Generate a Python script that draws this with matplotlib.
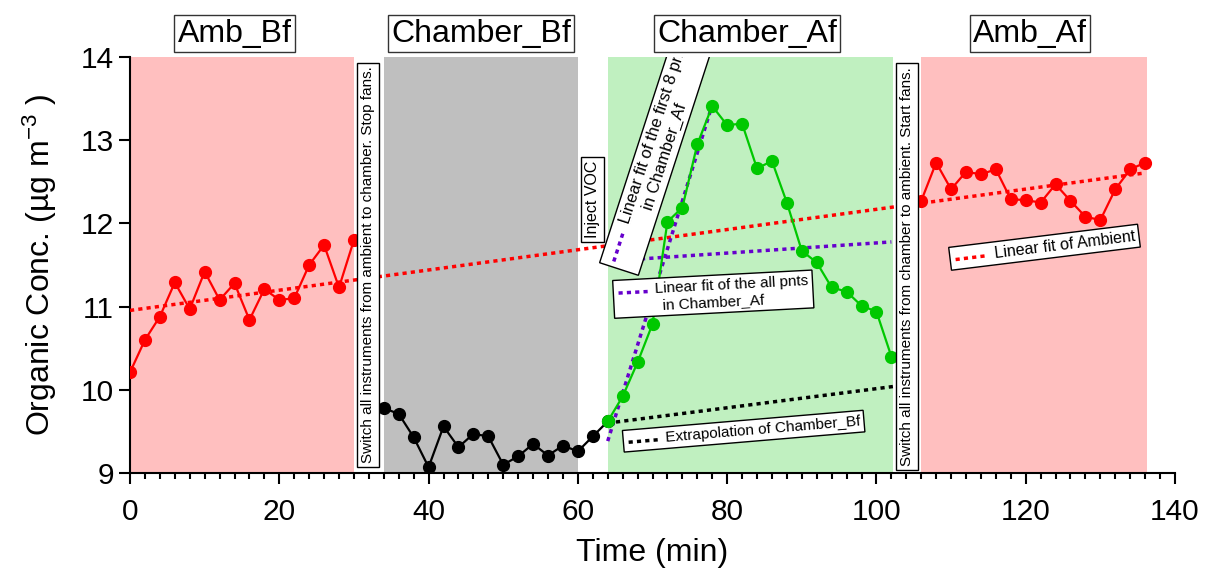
import numpy as np
import matplotlib
matplotlib.use('Agg')
import matplotlib.pyplot as plt
import matplotlib.transforms as mtransforms
from matplotlib.ticker import MultipleLocator

plt.rcParams['font.family'] = ['Liberation Sans', 'DejaVu Sans']
plt.rcParams['mathtext.fontset'] = 'custom'
plt.rcParams['mathtext.rm'] = 'Liberation Sans'
plt.rcParams['mathtext.default'] = 'regular'

# ---- data ----
amb_bf_t = list(range(0, 31, 2))
amb_bf = [10.21, 10.60, 10.88, 11.29, 10.97, 11.42, 11.08, 11.28,
          10.84, 11.21, 11.08, 11.10, 11.50, 11.74, 11.23, 11.80]

ch_bf_t = list(range(34, 65, 2))
ch_bf = [9.78, 9.71, 9.43, 9.07, 9.56, 9.31, 9.47, 9.44,
         9.10, 9.20, 9.35, 9.21, 9.33, 9.26, 9.44, 9.62]

ch_af_t = list(range(64, 103, 2))
ch_af = [9.62, 9.92, 10.33, 10.79, 12.02, 12.19, 12.95, 13.41, 13.18, 13.20,
         12.66, 12.75, 12.25, 11.67, 11.53, 11.23, 11.18, 11.01, 10.94, 10.40]

amb_af_t = list(range(106, 137, 2))
amb_af = [12.27, 12.73, 12.41, 12.62, 12.59, 12.65, 12.29, 12.28,
          12.25, 12.47, 12.27, 12.08, 12.04, 12.41, 12.65, 12.73]

# extrapolation of Chamber_Bf (end values)
extrap_t = [64, 102.3]
extrap_y = [9.60, 10.04]

periods = ['Amb_Bf', 'Chamber_Bf', 'Chamber_Af', 'Amb_Af']
period_start = [0, 34, 64, 106]
period_end = [30, 60, 102.2, 136.3]
period_color = ['#FFBFBF', '#BFBFBF', '#C0F0C0', '#FFBFBF']
period_label_t = [14.0, 47.0, 82.7, 120.6]

RED = '#FF0000'
GREEN = '#00C800'
PURPLE = '#6600CC'
DOT = (0, (1.2, 1.2))

fig = plt.figure(figsize=(12.05, 5.75), dpi=100)
ax = fig.add_axes([0.1079, 0.1774, 0.8672, 0.7235])

for s, e, c in zip(period_start, period_end, period_color):
    ax.axvspan(s, e, color=c, lw=0, zorder=0)

# fits
amb_t = np.array(amb_bf_t + amb_af_t)
amb_y = np.array(amb_bf + amb_af)
k, b = np.polyfit(amb_t, amb_y, 1)
xx = np.array([0, 136])
ax.plot(xx, k * xx + b, color=RED, lw=2.5, ls=DOT, zorder=3)

k8, b8 = np.polyfit(ch_af_t[:8], ch_af[:8], 1)
xx = np.array([ch_af_t[0], ch_af_t[7]])
ax.plot(xx, k8 * xx + b8, color=PURPLE, lw=2.5, ls=DOT, zorder=3)

ka, ba = np.polyfit(ch_af_t, ch_af, 1)
xx = np.array([ch_af_t[0], ch_af_t[-1]])
ax.plot(xx, ka * xx + ba, color=PURPLE, lw=2.5, ls=DOT, zorder=3)

ax.plot(extrap_t, extrap_y, color='black', lw=2.5, ls=DOT, zorder=3)

# data
ax.plot(amb_bf_t, amb_bf, '-o', color=RED, lw=1.6, ms=8.5, zorder=4)
ax.plot(ch_bf_t, ch_bf, '-o', color='black', lw=1.6, ms=8.5, zorder=4)
ax.plot(ch_af_t, ch_af, '-o', color=GREEN, lw=1.6, ms=8.5, zorder=4)
ax.plot(amb_af_t, amb_af, '-o', color=RED, lw=1.6, ms=8.5, zorder=4)

box = dict(boxstyle='square,pad=0.25', fc='white', ec='black', lw=1)

for name, t in zip(periods, period_label_t):
    ax.text(t, 14.28, name, ha='center', va='center', fontsize=23, clip_on=False,
            zorder=10, bbox=dict(boxstyle='square,pad=0.1', fc='white', ec='#333333', lw=1))

ax.text(31.9, 11.5, 'Switch all instruments from ambient to chamber. Stop fans.',
        rotation=90, ha='center', va='center', fontsize=11, zorder=10, bbox=box)
ax.text(104.1, 11.48, 'Switch all instruments from chamber to ambient. Start fans.',
        rotation=90, ha='center', va='center', fontsize=11, zorder=10, bbox=box)
ax.text(62.0, 12.29, 'Inject VOC', rotation=90, ha='center', va='center',
        fontsize=11.5, zorder=10, bbox=box)


def key_box(x, y, rot, label, color, va='center', dy=-1.0, fs=11.5, clip=False):
    t = ax.text(x, y, ' ' * 9 + label, rotation=rot, rotation_mode='anchor', ha='left',
                va=va, multialignment='center', fontsize=fs, zorder=10, bbox=box)
    t.set_clip_on(clip)
    tr = (mtransforms.Affine2D().rotate_deg(rot).scale(1 / 72.) + fig.dpi_scale_trans
          + mtransforms.ScaledTranslation(x, y, ax.transData))
    ax.plot([1, 24], [dy, dy], transform=tr, color=color, lw=2.5, ls=DOT,
            zorder=11, clip_on=False)


key_box(63.6, 11.56, 72, 'Linear fit of the first 8 pnts\nin Chamber_Af', PURPLE,
        va='top', dy=-6.5, fs=12, clip=True)
key_box(65.2, 11.27, 3, 'Linear fit of the all pnts\nin Chamber_Af', PURPLE,
        va='top', dy=-6.5, fs=11)
key_box(66.6, 9.385, 4.8, 'Extrapolation of Chamber_Bf', 'black', fs=11)
key_box(110.4, 11.58, 7, 'Linear fit of Ambient', RED)

ax.set_xlim(0, 140)
ax.set_ylim(9, 14)
ax.xaxis.set_major_locator(MultipleLocator(20))
ax.xaxis.set_minor_locator(MultipleLocator(2))
ax.yaxis.set_major_locator(MultipleLocator(1))
ax.spines['top'].set_visible(False)
ax.spines['right'].set_visible(False)
ax.spines['left'].set_linewidth(1.5)
ax.spines['bottom'].set_linewidth(1.5)
ax.tick_params(axis='both', which='major', labelsize=21.5, width=1.5, length=8, direction='out')
ax.tick_params(axis='x', which='major', pad=10)
ax.tick_params(axis='x', which='minor', width=1.5, length=4.5, direction='out')
ax.set_xlabel('Time (min)', fontsize=23, labelpad=9)
ax.set_ylabel('Organic Conc. (µg m$^{-3}$ )', fontsize=23, labelpad=16)

fig.savefig('out.png', dpi=100)
